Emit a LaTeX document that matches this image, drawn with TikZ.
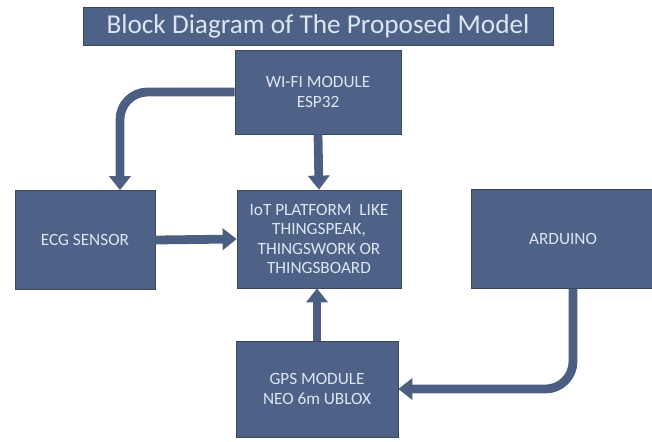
\documentclass[tikz,border=0pt]{standalone}
\usepackage{fontspec}
\setmainfont{Carlito}
\usetikzlibrary{positioning,arrows.meta}

\definecolor{boxblue}{HTML}{4E6287}
\definecolor{boxedge}{HTML}{3A475F}
\definecolor{boxtext}{HTML}{DCE6F2}
\definecolor{wireblue}{HTML}{4C5F83}

\begin{document}
\begin{tikzpicture}[
  x=0.02cm, y=-0.02cm, % one unit is one pixel of the sheet
  wire/.style={draw=wireblue, line width=5pt, rounded corners=0.55cm,
    -{Triangle[width=12pt,length=8pt]}},
  blockbox/.style={rectangle, fill=boxblue, draw=boxedge, thin, inner sep=0pt,
    text=boxtext, align=center, font=\fontsize{9.8}{11}\selectfont}
]
  \useasboundingbox (0,0) rectangle (652,441);

  % Title
  \node[blockbox, minimum width=9.4cm, minimum height=0.76cm,
    font=\fontsize{15.5}{17}\selectfont] (title) at (318,26)
    {Block Diagram of The Proposed Model};

  % Main nodes
  \node[blockbox, minimum width=3.32cm, minimum height=1.68cm] (wifi) at (318,92)
    {WI-FI MODULE\\ESP32};
  \node[blockbox, minimum width=2.8cm, minimum height=1.98cm] (ecg) at (85,240)
    {ECG SENSOR};
  \node[blockbox, minimum width=3.28cm, minimum height=1.96cm] (iot) at (319,239)
    {IoT PLATFORM\ \ LIKE\\THINGSPEAK,\\THINGSWORK OR\\THINGSBOARD};
  \node[blockbox, minimum width=3.68cm, minimum height=1.98cm] (arduino) at (563,239)
    {ARDUINO};
  \node[blockbox, minimum width=3.24cm, minimum height=1.92cm,
    text depth=-0.15cm] (gps) at (317,389)
    {GPS MODULE\\NEO 6m UBLOX};

  % --- Connectors ---
  \draw[wire] (wifi.west) -| ([xshift=0.7cm]ecg.north);
  \draw[wire] (wifi.south) -- (iot.north);
  \draw[wire] (ecg.east) -- (iot.west);
  \draw[wire] (gps.north) -- (gps.north |- iot.south);
  \draw[wire] ([xshift=0.2cm]arduino.south) |- (gps.east);
\end{tikzpicture}
\end{document}
